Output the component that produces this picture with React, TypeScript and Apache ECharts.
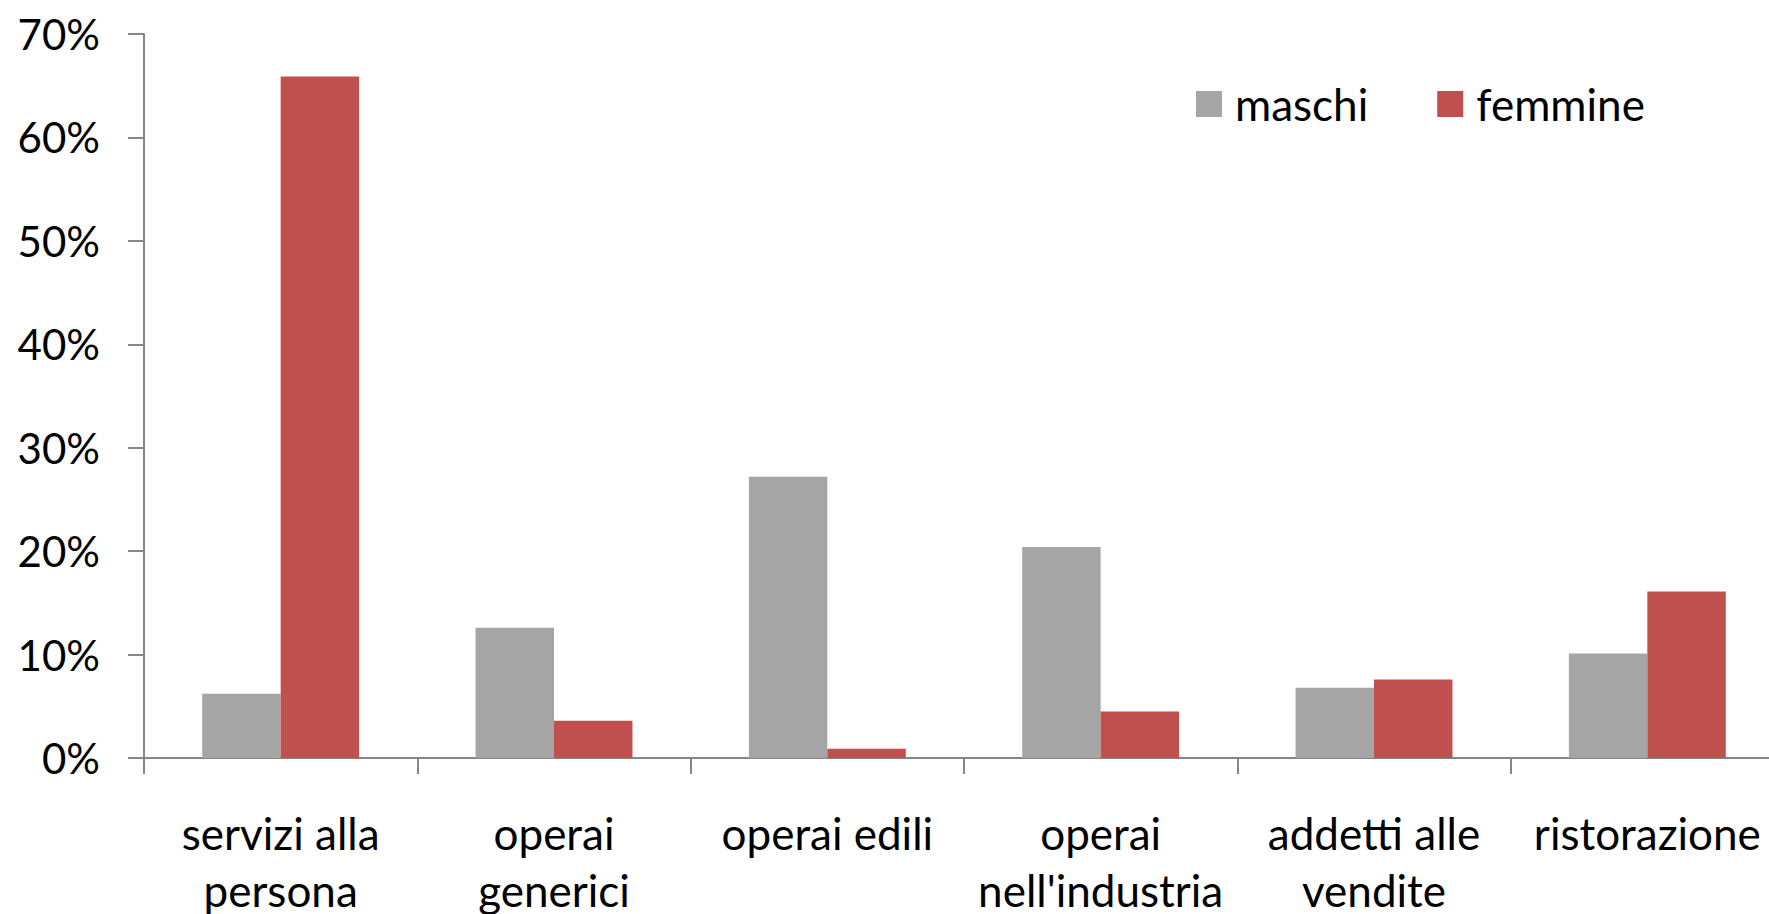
import React, { useEffect, useRef } from "react";
import * as echarts from "echarts";

const categories = [
  "servizi alla\npersona",
  "operai\ngenerici",
  "operai edili",
  "operai\nnell'industria",
  "addetti alle\nvendite",
  "ristorazione",
];
const seriesNames = ["maschi", "femmine"];
const maschi = [6.2, 12.6, 27.2, 20.4, 6.8, 10.1];
const femmine = [65.9, 3.6, 0.9, 4.5, 7.6, 16.1];
const yTicks = { min: 0, max: 70, interval: 10 };

const FONT = "Lato";

export default function App() {
  const ref = useRef<HTMLDivElement>(null);
  useEffect(() => {
    if (!ref.current) return;
    const chart = echarts.init(ref.current, null, { renderer: "svg" });
    chart.setOption({
      animation: false,
      backgroundColor: "#ffffff",
      textStyle: { fontFamily: FONT, color: "#000" },
      legend: {
        left: 1196,
        top: 82,
        padding: 0,
        itemWidth: 26,
        itemHeight: 26,
        itemGap: 69,
        icon: "rect",
        textStyle: { fontFamily: FONT, fontSize: 44, color: "#000", padding: [0, 0, 0, 8] },
        data: seriesNames,
      },
      grid: {
        left: 144,
        top: 34,
        bottom: 156,
        width: 1640,
        containLabel: false,
        outerBoundsMode: "none",
      },
      xAxis: {
        type: "category",
        data: categories,
        axisLine: { lineStyle: { color: "#868686", width: 2 } },
        axisTick: { show: true, length: 16, lineStyle: { color: "#868686", width: 2 } },
        axisLabel: {
          interval: 0,
          fontFamily: FONT,
          fontSize: 44,
          color: "#000",
          lineHeight: 57,
          margin: 46,
        },
      },
      yAxis: {
        type: "value",
        min: yTicks.min,
        max: yTicks.max,
        interval: yTicks.interval,
        splitLine: { show: false },
        axisLine: { show: true, lineStyle: { color: "#868686", width: 2 } },
        axisTick: { show: true, length: 16, lineStyle: { color: "#868686", width: 2 } },
        axisLabel: {
          formatter: "{value}%",
          fontFamily: FONT,
          fontSize: 42,
          color: "#000",
          margin: 44,
        },
      },
      series: [
        {
          name: seriesNames[0],
          type: "bar",
          data: maschi,
          itemStyle: { color: "#A5A5A5" },
          barGap: "0%",
          barCategoryGap: "42.6%",
        },
        {
          name: seriesNames[1],
          type: "bar",
          data: femmine,
          itemStyle: { color: "#C0504D" },
          barGap: "0%",
          barCategoryGap: "42.6%",
        },
      ],
    });
    return () => chart.dispose();
  }, []);
  return (
    <div
      ref={ref}
      style={{ position: "fixed", left: 0, top: 0, width: 1769, height: 914 }}
    />
  );
}
